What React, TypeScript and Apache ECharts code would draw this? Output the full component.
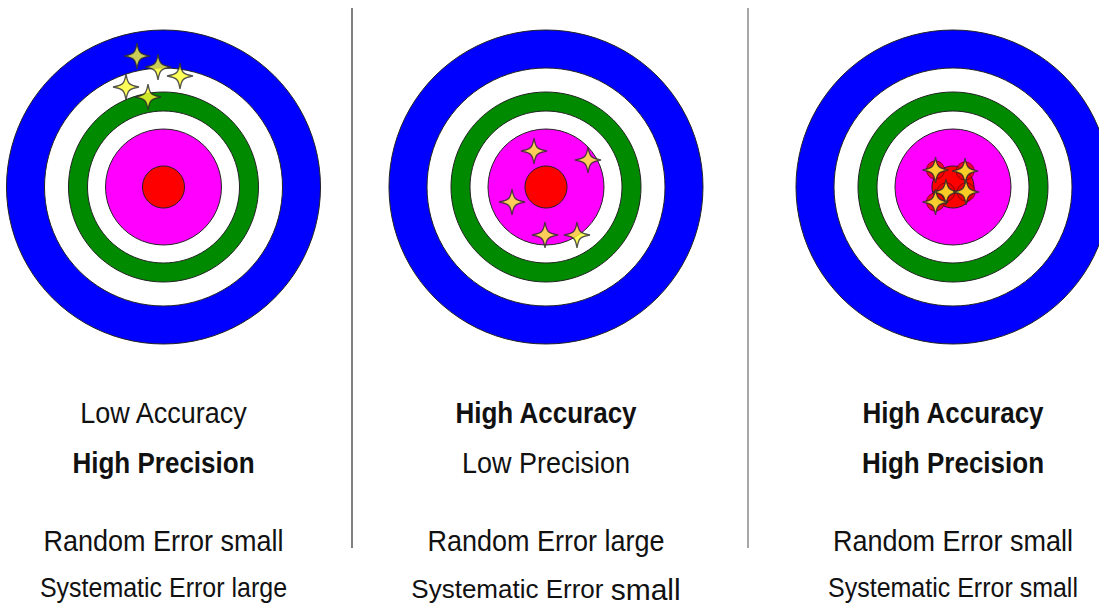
import React, { useEffect, useRef } from "react";
import * as echarts from "echarts";

// ---- data ----
const panelCenterX = [163.5, 546, 953];
const targetCenterY = 187;
// band boundaries of the target (radius in px): [inner, outer]
const blueBand = [119, 157];
const greenBand = [76, 95];
const magentaBand = [0, 58];
const bullBand = [0, 21];

// shot positions relative to the bull's eye (x right, y up)
const shotsLowAccHighPrec = [[-26.5, 131], [-5.5, 120], [16.5, 111], [-37.5, 100], [-15.5, 90]];
const shotsHighAccLowPrec = [[-12, 36], [42, 27], [-34, -15], [-1, -48], [31, -48]];
const shotsHighAccHighPrec = [[-11, 17], [20, 16], [0, -5], [21, -5], [-11, -15]];

const accuracyLabels = ["Low Accuracy", "High Accuracy", "High Accuracy"];
const accuracyBold = [false, true, true];
const precisionLabels = ["High Precision", "Low Precision", "High Precision"];
const precisionBold = [true, false, true];
const randomErrorLabels = ["Random Error small", "Random Error large", "Random Error small"];
const systematicErrorLabels = ["Systematic Error large", "Systematic Error small", "Systematic Error small"];
const dividerX = [352, 748];

const STAR = "path://M0,-12 C1.3,-4.5 1.6,-1.6 12,0 C1.6,1.6 1.3,4.5 0,12 C-1.3,4.5 -1.6,1.6 -12,0 C-1.6,-1.6 -1.3,-4.5 0,-12 Z";

export default function App() {
  const ref = useRef<HTMLDivElement>(null);
  useEffect(() => {
    document.body.style.margin = "0";
    const chart = echarts.init(ref.current!, null, { renderer: "svg" });
    const allShots = [shotsLowAccHighPrec, shotsHighAccLowPrec, shotsHighAccHighPrec];
    const half = 160;
    const grids: any[] = [];
    const xAxes: any[] = [];
    const yAxes: any[] = [];
    const series: any[] = [];
    const bands = [
      { r: blueBand, c: "#0000ff" },
      { r: greenBand, c: "#008a00" },
      { r: magentaBand, c: "#ff00ff" },
      { r: bullBand, c: "#ff0000" },
    ];
    panelCenterX.forEach((cx, i) => {
      bands.forEach((b) => {
        series.push({
          type: "pie",
          silent: true,
          center: [cx, targetCenterY],
          radius: b.r,
          label: { show: false },
          labelLine: { show: false },
          emphasis: { disabled: true },
          itemStyle: { color: b.c, borderColor: "#222", borderWidth: 1 },
          data: [{ value: 1 }],
        });
      });
      grids.push({ left: cx - half, top: targetCenterY - half, width: half * 2, height: half * 2 });
      xAxes.push({ type: "value", gridIndex: i, min: -half, max: half, show: false });
      yAxes.push({ type: "value", gridIndex: i, min: -half, max: half, show: false });
    });
    // holes in the bull (third target)
    series.push({
      type: "scatter",
      xAxisIndex: 2,
      yAxisIndex: 2,
      symbol: "circle",
      symbolSize: 18,
      silent: true,
      itemStyle: { color: "#e80000", borderColor: "#6a0000", borderWidth: 1 },
      data: shotsHighAccHighPrec,
    });
    allShots.forEach((shots, i) => {
      series.push({
        type: "scatter",
        xAxisIndex: i,
        yAxisIndex: i,
        symbol: STAR,
        symbolSize: 26,
        silent: true,
        clip: false,
        itemStyle: { color: "#ffff30", borderColor: "#2a2a2a", borderWidth: 1.3 },
        data: shots,
      });
    });

    const font = (bold: boolean, size = 27) =>
      `${bold ? "bold " : ""}${size}px "Liberation Sans", Arial, sans-serif`;
    const graphics: any[] = [];
    dividerX.forEach((x, i) => {
      graphics.push({
        type: "line",
        shape: { x1: x, y1: 8, x2: x, y2: 548 },
        style: { stroke: i === 0 ? "#808080" : "#a8a8a8", lineWidth: 2 },
        silent: true,
      });
    });
    const sy = 1.1;
    panelCenterX.forEach((cx, i) => {
      const rows = [
        { t: accuracyLabels[i], b: accuracyBold[i], y: 413 },
        { t: precisionLabels[i], b: precisionBold[i], y: 463 },
        { t: randomErrorLabels[i], b: false, y: 541 },
      ];
      rows.forEach((r) => {
        graphics.push({
          type: "text",
          x: cx,
          y: r.y,
          scaleY: sy,
          silent: true,
          style: { text: r.t, fill: "#111", font: font(r.b, r.b ? 26 : 27), textAlign: "center", textVerticalAlign: "middle" },
        });
      });
      const sys = systematicErrorLabels[i];
      if (i === 1) {
        const parts = sys.split(" ");
        const last = parts.pop();
        graphics.push({
          type: "text",
          x: cx,
          y: 589,
          silent: true,
          style: {
            text: `{a|${parts.join(" ")} }{b|${last}}`,
            textAlign: "center",
            textVerticalAlign: "middle",
            rich: {
              a: { font: font(false, 26), fill: "#111", verticalAlign: "bottom", height: 26 },
              b: { font: font(false, 30), fill: "#111", verticalAlign: "bottom", height: 26 },
            },
          },
        });
      } else {
        graphics.push({
          type: "text",
          x: cx,
          y: 588,
          scaleY: sy,
          silent: true,
          style: { text: sys, fill: "#111", font: font(false, 25), textAlign: "center", textVerticalAlign: "middle" },
        });
      }
    });

    chart.setOption({
      animation: false,
      backgroundColor: "#ffffff",
      grid: grids,
      xAxis: xAxes,
      yAxis: yAxes,
      series,
      graphic: graphics,
    });
    return () => chart.dispose();
  }, []);
  return <div ref={ref} style={{ position: "fixed", left: 0, top: 0, width: 1099, height: 606 }} />;
}
